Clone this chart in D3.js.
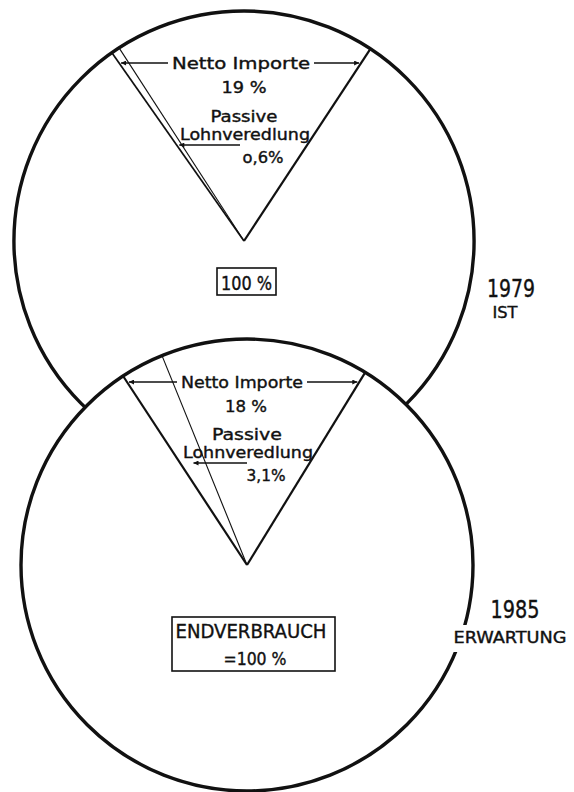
<!DOCTYPE html>
<html>
<head>
<meta charset="utf-8">
<script src="https://cdn.jsdelivr.net/npm/d3@7"></script>
<style>
  body { margin: 0; background: #fff; }
  text { font-family: "DejaVu Sans Condensed", "DejaVu Sans", sans-serif; fill: #111; stroke: #111; stroke-width: 0.35px; }
</style>
</head>
<body>
<svg id="chart"></svg>
<script>
// values
const years = ["1979", "1985"];
const yearNotes = ["IST", "ERWARTUNG"];
const nettoImporte = [19, 18];            // % of Endverbrauch
const passiveLohnveredlung = [0.6, 3.1];  // % (part of the imports)
const importLabels = ["19 %", "18 %"];
const passiveLabels = ["o,6%", "3,1%"];
const totalLabels = [["100 %"], ["ENDVERBRAUCH", "=100 %"]];

const width = 574, height = 792;
const svg = d3.select("#chart").attr("width", width).attr("height", height);

// one pie per year, the imports wedge sits at the top
const layout = [
  {cx: 244, cy: 241, r: 230},
  {cx: 247, cy: 565, r: 226}
];

const defs = svg.append("defs");
defs.append("marker")
  .attr("id", "arrow")
  .attr("viewBox", "0 -5 10 10")
  .attr("refX", 10)
  .attr("refY", 0)
  .attr("markerWidth", 9)
  .attr("markerHeight", 5)
  .attr("markerUnits", "userSpaceOnUse")
  .attr("orient", "auto")
  .append("path")
    .attr("d", "M0,-5L10,0L0,5Z")
    .attr("fill", "#111");

function label(g, str, x, y, size, len) {
  const t = g.append("text")
    .attr("x", x)
    .attr("y", y)
    .attr("text-anchor", "middle")
    .attr("font-size", size + "px")
    .text(str);
  if (len) t.attr("textLength", len).attr("lengthAdjust", "spacingAndGlyphs");
  return t;
}

years.forEach((year, i) => {
  const {cx, cy, r} = layout[i];
  const g = svg.append("g");

  const values = [passiveLohnveredlung[i], nettoImporte[i] - passiveLohnveredlung[i], 100 - nettoImporte[i]];
  const offset = -nettoImporte[i] / 100 * Math.PI - 0.015;
  const slices = d3.pie().sort(null)
    .startAngle(offset)
    .endAngle(offset + 2 * Math.PI)(values);

  const pt = (a, rad) => [cx + rad * Math.sin(a), cy - rad * Math.cos(a)];
  const xAt = (a, y) => cx + (cy - y) * Math.tan(a);

  // whole circle (white so the lower pie covers the upper one)
  g.append("path")
    .attr("transform", `translate(${cx},${cy})`)
    .attr("d", d3.arc().innerRadius(0).outerRadius(r)({startAngle: 0, endAngle: 2 * Math.PI}))
    .attr("fill", "#fff")
    .attr("stroke", "#111")
    .attr("stroke-width", 3.4);

  // slice borders
  const edges = [
    {a: slices[0].startAngle, w: i === 0 ? 1.7 : 2.2},
    {a: slices[0].endAngle, w: 1.1},
    {a: slices[1].endAngle, w: 2.2}
  ];
  edges.forEach(e => {
    const p = pt(e.a, r);
    g.append("line")
      .attr("x1", cx).attr("y1", cy)
      .attr("x2", p[0]).attr("y2", p[1])
      .attr("stroke", "#111")
      .attr("stroke-width", e.w);
  });

  const leftA = slices[0].startAngle, rightA = slices[1].endAngle;

  // Netto Importe label with arrows to both wedge edges
  const ny = i === 0 ? cy - 178 : cy - 183;
  const nLen = i === 0 ? 138 : 122;
  const tx = cx - (i === 0 ? 3 : 5);
  label(g, i === 0 ? "Netto  Importe" : "Netto Importe", tx, ny + 6, 16, nLen);
  g.append("line")
    .attr("x1", tx - nLen / 2 - 4).attr("y1", ny)
    .attr("x2", xAt(leftA, ny) + 2).attr("y2", ny)
    .attr("stroke", "#111").attr("stroke-width", 1.4)
    .attr("marker-end", "url(#arrow)");
  g.append("line")
    .attr("x1", tx + nLen / 2 + 4).attr("y1", ny)
    .attr("x2", xAt(rightA, ny) - 2).attr("y2", ny)
    .attr("stroke", "#111").attr("stroke-width", 1.4)
    .attr("marker-end", "url(#arrow)");

  label(g, importLabels[i], cx + (i === 0 ? 0 : -1), ny + 30, 16, i === 0 ? 45 : 42);

  // Passive Lohnveredlung
  const py = i === 0 ? cy - 119 : cy - 125;
  label(g, "Passive", cx, py, 16, i === 0 ? 67 : 70);
  label(g, "Lohnveredlung", cx + 1, py + 18, 15.5, 130);
  const ay = py + 23;
  const midA = (slices[0].startAngle + slices[0].endAngle) / 2;
  g.append("line")
    .attr("x1", cx - 4 + (i === 0 ? 0 : 4)).attr("y1", ay)
    .attr("x2", xAt(midA, ay)).attr("y2", ay)
    .attr("stroke", "#111").attr("stroke-width", 1.3)
    .attr("marker-end", "url(#arrow)");
  label(g, passiveLabels[i], cx + 19, ay + 18, 16, i === 0 ? 41 : 39);

  // total box
  if (i === 0) {
    g.append("rect")
      .attr("x", cx - 27).attr("y", cy + 27)
      .attr("width", 59).attr("height", 27)
      .attr("fill", "none").attr("stroke", "#111").attr("stroke-width", 1.6);
    label(g, totalLabels[i][0], cx + 2.5, cy + 49, 19, 51);
  } else {
    g.append("rect")
      .attr("x", cx - 75).attr("y", cy + 52)
      .attr("width", 163).attr("height", 54)
      .attr("fill", "none").attr("stroke", "#111").attr("stroke-width", 1.6);
    label(g, totalLabels[i][0], cx + 4, cy + 73, 19, 151);
    label(g, totalLabels[i][1], cx + 8, cy + 100, 17, 63);
  }
});

// year captions on the right, with a white patch where they cut the circle
const captions = [
  {x: 511, y: 297, size: 25, len: 48, subX: 505, subY: 318, subSize: 15, subLen: 25},
  {x: 515, y: 618, size: 24, len: 49, subX: 510, subY: 643, subSize: 16, subLen: 113}
];
years.forEach((year, i) => {
  const c = captions[i];
  const g = svg.append("g");
  g.append("rect")
    .attr("x", c.subX - c.subLen / 2 - 3)
    .attr("y", c.subY - 18)
    .attr("width", c.subLen + 6)
    .attr("height", 27)
    .attr("fill", "#fff");
  label(g, year, c.x, c.y, c.size, c.len);
  label(g, yearNotes[i], c.subX, c.subY, c.subSize, c.subLen);
});
</script>
</body>
</html>
